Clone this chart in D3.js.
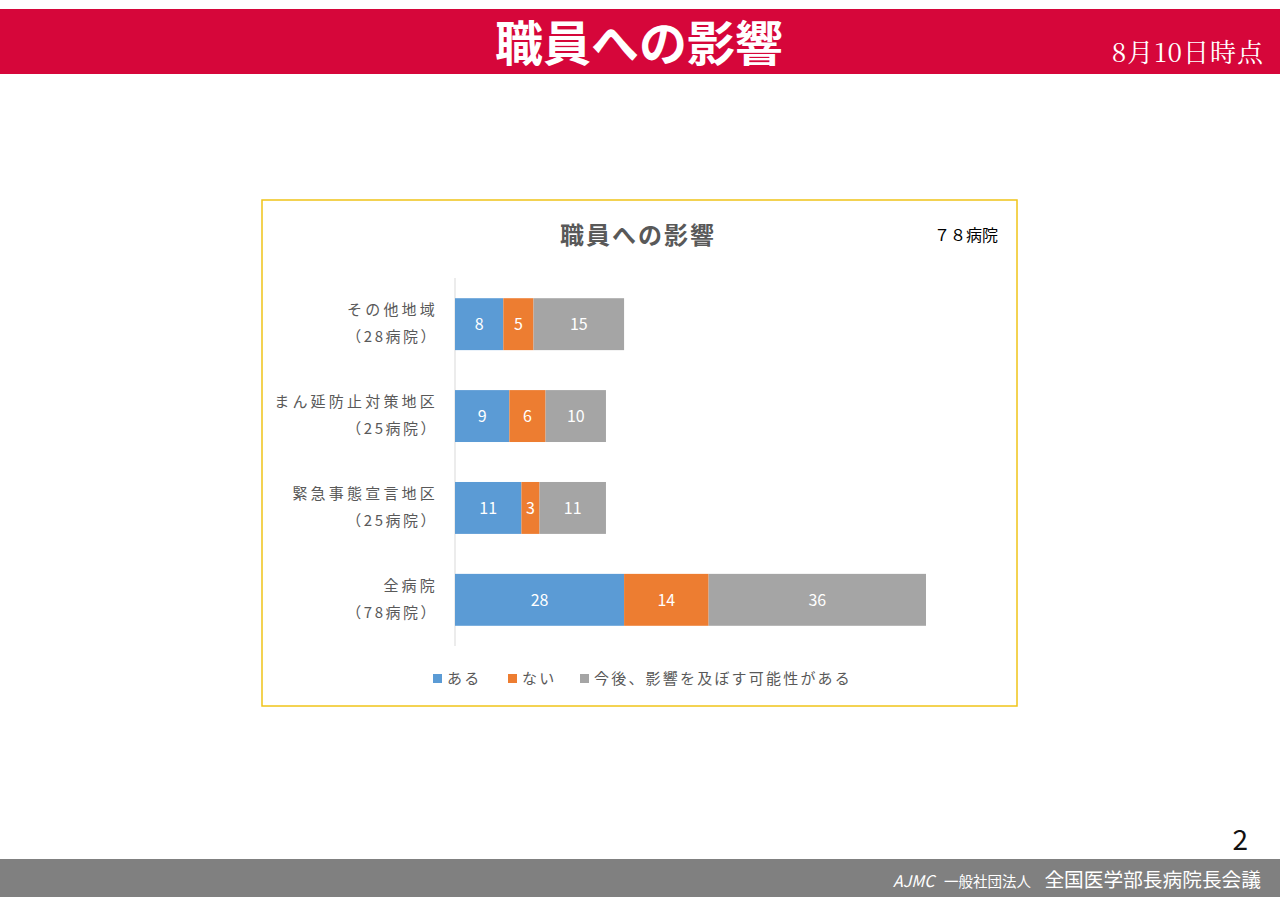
<!DOCTYPE html>
<html><head><meta charset="utf-8">
<script src="https://cdn.jsdelivr.net/npm/d3@7"></script>
<style>body{margin:0;background:#fff}svg{display:block;font-family:"Noto Sans CJK JP","Noto Sans",sans-serif}</style>
</head><body><svg id="c" width="1280" height="905"></svg>
<script>
var categories = ["その他地域|（28病院）", "まん延防止対策地区|（25病院）", "緊急事態宣言地区|（25病院）", "全病院|（78病院）"];
var seriesNames = ["ある", "ない", "今後、影響を及ぼす可能性がある"];
var seriesColors = ["#5b9bd5", "#ed7d31", "#a5a5a5"];
var aru = [8, 9, 11, 28];
var nai = [5, 6, 3, 14];
var kongo = [15, 10, 11, 36];

var svg = d3.select("#c");
// header
svg.append("rect").attr("x", 0).attr("y", 9).attr("width", 1280).attr("height", 65).attr("fill", "#d6063a");
svg.append("text").attr("x", 639).attr("y", 61).attr("text-anchor", "middle").attr("fill", "#fff")
    .attr("font-size", 48).attr("font-weight", "bold").text("職員への影響");
svg.append("text").attr("x", 1264).attr("y", 62).attr("text-anchor", "end").attr("fill", "#fff")
    .attr("font-size", 26).attr("font-family", "Noto Serif CJK JP, serif").attr("letter-spacing", 1).text("8月10日時点");
// footer
svg.append("rect").attr("x", 0).attr("y", 859).attr("width", 1280).attr("height", 38).attr("fill", "#808080");
svg.append("text").attr("x", 1248).attr("y", 850).attr("text-anchor", "end").attr("font-size", 28).attr("fill", "#111").text("2");
svg.append("text").attr("x", 893).attr("y", 887).attr("fill", "#fff").attr("font-size", 16).attr("font-style", "italic").text("AJMC");
svg.append("text").attr("x", 944).attr("y", 887).attr("fill", "#fff").attr("font-size", 14.5).text("一般社団法人");
svg.append("text").attr("x", 1261).attr("y", 887).attr("text-anchor", "end").attr("fill", "#fff").attr("font-size", 19.7).text("全国医学部長病院長会議");

// chart frame
svg.append("rect").attr("x", 262).attr("y", 200).attr("width", 755).attr("height", 506)
    .attr("fill", "#fff").attr("stroke", "#f0c419").attr("stroke-width", 1.5);
svg.append("text").attr("x", 638).attr("y", 244).attr("text-anchor", "middle").attr("font-size", 24)
    .attr("font-weight", "bold").attr("letter-spacing", 2).attr("fill", "#595959").text("職員への影響");
svg.append("text").attr("x", 998).attr("y", 241).attr("text-anchor", "end").attr("font-size", 16)
    .attr("fill", "#000").text("７８病院");

var rows = categories.map(function (c, i) { return {cat: c, v: [aru[i], nai[i], kongo[i]]}; });
var x = d3.scaleLinear().domain([0, 78]).range([455, 926]);
var y = d3.scaleBand().domain(categories).range([278, 646]).paddingInner(0.435).paddingOuter(0.22);

svg.append("line").attr("x1", 455).attr("x2", 455).attr("y1", 278).attr("y2", 646).attr("stroke", "#d9d9d9");

rows.forEach(function (r) {
    var acc = 0;
    r.v.forEach(function (v, k) {
        var g = svg.append("g");
        g.append("rect").attr("x", x(acc)).attr("y", y(r.cat)).attr("width", x(acc + v) - x(acc))
            .attr("height", y.bandwidth()).attr("fill", seriesColors[k]);
        g.append("text").attr("x", (x(acc) + x(acc + v)) / 2).attr("y", y(r.cat) + y.bandwidth() / 2 + 6)
            .attr("text-anchor", "middle").attr("fill", "#fff").attr("font-size", 16).text(v);
        acc += v;
    });
    var parts = r.cat.split("|");
    var cy = y(r.cat) + y.bandwidth() / 2;
    svg.append("text").attr("x", 438).attr("y", cy - 9).attr("text-anchor", "end").attr("font-size", 15)
        .attr("letter-spacing", 3.2).attr("fill", "#595959").text(parts[0]);
    svg.append("text").attr("x", 438).attr("y", cy + 18).attr("text-anchor", "end").attr("font-size", 15)
        .attr("letter-spacing", 2.5).attr("fill", "#595959").text(parts[1]);
});

// legend
var lx = [433, 508, 580];
seriesNames.forEach(function (n, k) {
    svg.append("rect").attr("x", lx[k]).attr("y", 674).attr("width", 9).attr("height", 9).attr("fill", seriesColors[k]);
    svg.append("text").attr("x", lx[k] + 14).attr("y", 684).attr("font-size", 15).attr("letter-spacing", 2.2)
        .attr("fill", "#595959").text(n);
});
</script></body></html>
